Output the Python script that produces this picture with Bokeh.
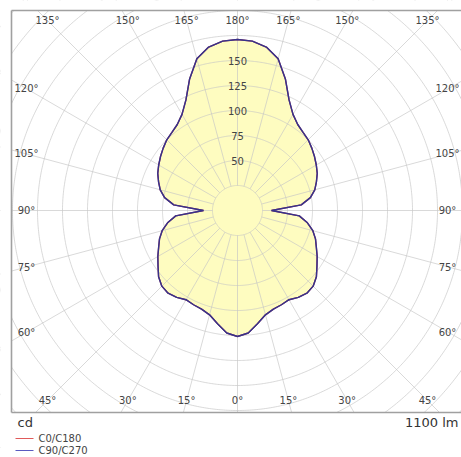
import numpy as np
from bokeh.plotting import figure
from bokeh.core.properties import value
from bokeh.embed import file_html
from bokeh.resources import INLINE

# ---------------- data ----------------
gamma_deg = list(range(0, 181, 5))
c0_c180 = [126, 123, 115, 108, 105, 104, 103, 106, 108, 107, 103, 97, 92, 87, 83,
           78, 71, 62, 34, 64, 74, 80, 84, 88, 91, 94, 97, 100, 102, 105, 111,
           122, 140, 157, 166, 170, 171]
c90_c270 = [126, 123, 115, 108, 105, 104, 103, 106, 108, 107, 103, 97, 92, 87, 83,
            78, 71, 62, 34, 64, 74, 80, 84, 88, 91, 94, 97, 100, 102, 105, 111,
            122, 140, 157, 166, 170, 171]
ring_values = [25, 50, 75, 100, 125, 150, 175, 200, 225, 250, 275, 300]
ring_label_values = [50, 75, 100, 125, 150]
spoke_step = 15
top_angle_labels = ["135°", "150°", "165°", "180°", "165°", "150°", "135°"]
top_angle_offsets = [-45, -30, -15, 0, 15, 30, 45]
side_angle_labels = ["120°", "105°", "90°", "75°", "60°"]
side_angle_gamma = [120, 105, 90, 75, 60]
bottom_angle_labels = ["45°", "30°", "15°", "0°", "15°", "30°", "45°"]
bottom_angle_offsets = [-45, -30, -15, 0, 15, 30, 45]
legend_names = ["C0/C180", "C90/C270"]
legend_colors = ["#e05a5a", "#5a5ac0"]
flux_label = "1100 lm"
unit_label = "cd"

# ---------------- layout ----------------
W, H = 461, 457
XL, XR = -237, 224
YB, YT = -247, 210
FL, FT, FB = -226, 200, -202   # frame left / top / bottom
FONT = value("DejaVu Sans")
GRID = "#c4c4c4"
TXT = "#444444"

p = figure(width=W, height=H, x_range=(XL, XR), y_range=(YB, YT),
           output_backend="svg", toolbar_location=None, min_border=0)
p.axis.visible = False
p.grid.visible = False
p.outline_line_color = None
p.background_fill_color = "white"

g = np.radians(np.array(gamma_deg, dtype=float))


def outline(vals):
    v = np.array(vals, dtype=float)
    xr = v * np.sin(g)
    yr = -v * np.cos(g)
    xs = np.concatenate([xr, -xr[::-1]])
    ys = np.concatenate([yr, yr[::-1]])
    return xs, ys


xs0, ys0 = outline(c0_c180)
xs1, ys1 = outline(c90_c270)

# fill
p.patch(xs0, ys0, fill_color="#fefcc0", line_color=None)

# grid rings
t = np.linspace(0, 2 * np.pi, 721)
p.multi_line([list(r * np.cos(t)) for r in ring_values],
             [list(r * np.sin(t)) for r in ring_values],
             line_color=GRID, line_alpha=0.65, line_width=1)
# spokes
ang = np.radians(np.arange(0, 360, spoke_step))
r0, r1 = ring_values[0], 420
p.multi_line([[r0 * np.cos(a), r1 * np.cos(a)] for a in ang],
             [[r0 * np.sin(a), r1 * np.sin(a)] for a in ang],
             line_color=GRID, line_alpha=0.65, line_width=1)

# curves
p.line(xs0, ys0, line_color="#a03050", line_width=1.4)
p.line(xs1, ys1, line_color="#35338c", line_width=1.4)

# white masks outside frame
p.quad(left=[XL, XL, XL], right=[FL, XR, XR], bottom=[YB, FT, YB], top=[YT, YT, FB],
       fill_color="white", line_color=None)

# frame lines
p.segment(x0=[FL, FL, FL], y0=[FB, FT, FB], x1=[FL, XR, XR], y1=[FT, FT, FB],
          line_color="#a0a0a0", line_width=1.6)

# ring labels
p.text(x=[0] * len(ring_label_values), y=ring_label_values,
       text=[str(v) for v in ring_label_values], text_align="center",
       text_baseline="middle", text_font=FONT, text_font_size="10px", text_color=TXT)

# angle labels
ty = 190
p.text(x=[ty * np.tan(np.radians(a)) for a in top_angle_offsets], y=[ty] * 7,
       text=top_angle_labels, text_align="center", text_baseline="middle",
       text_font=FONT, text_font_size="10px", text_color=TXT)
p.text(x=[ty * np.tan(np.radians(a)) for a in bottom_angle_offsets],
       y=[-ty] * 7, text=bottom_angle_labels, text_align="center", text_baseline="middle",
       text_font=FONT, text_font_size="10px", text_color=TXT)
sx = 211
sy = [sx * np.tan(np.radians(gm - 90)) for gm in side_angle_gamma]
p.text(x=[-sx] * 5 + [sx - 1] * 5, y=sy + sy, text=side_angle_labels + side_angle_labels,
       text_align="center", text_baseline="middle", text_font=FONT,
       text_font_size="10px", text_color=TXT)

# unit and flux
p.text(x=[-220], y=[-212], text=[unit_label], text_align="left", text_baseline="middle",
       text_font=FONT, text_font_size="13px", text_color="#333333")
p.text(x=[221], y=[-212], text=[flux_label], text_align="right", text_baseline="middle",
       text_font=FONT, text_font_size="13px", text_color="#333333")

# legend
ly = [-228, -240]
p.segment(x0=[-222, -222], y0=ly, x1=[-204, -204], y1=ly, line_color=legend_colors, line_width=1)
p.text(x=[-199, -199], y=ly, text=legend_names, text_align="left", text_baseline="middle",
       text_font=FONT, text_font_size="10px", text_color=TXT)

open("out.html", "w").write(file_html(p, INLINE))
